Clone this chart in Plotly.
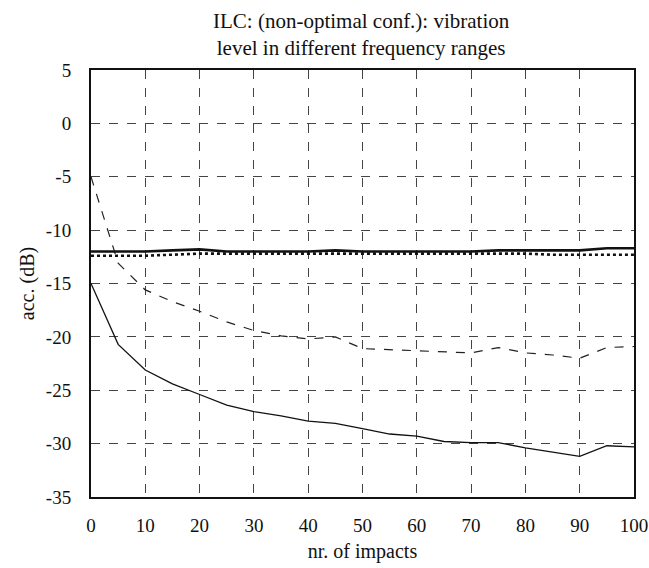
import plotly.graph_objects as go

impacts = [0, 5, 10, 15, 20, 25, 30, 35, 40, 45, 50, 55, 60, 65, 70, 75, 80, 85, 90, 95, 100]
thick_solid = [-12.0, -12.0, -12.0, -11.9, -11.8, -12.0, -12.0, -12.0, -12.0, -11.9, -12.0, -12.0, -12.0, -12.0, -12.0, -11.9, -11.9, -11.9, -11.9, -11.7, -11.7]
dotted = [-12.4, -12.4, -12.4, -12.3, -12.2, -12.2, -12.2, -12.2, -12.2, -12.2, -12.2, -12.2, -12.2, -12.2, -12.2, -12.2, -12.2, -12.3, -12.3, -12.3, -12.3]
dashed = [-5.0, -13.1, -15.6, -16.7, -17.6, -18.6, -19.4, -19.9, -20.2, -20.0, -21.1, -21.2, -21.3, -21.4, -21.5, -21.0, -21.5, -21.7, -22.0, -21.0, -20.9]
thin_solid = [-15.0, -20.7, -23.1, -24.4, -25.4, -26.4, -27.0, -27.4, -27.9, -28.1, -28.6, -29.1, -29.3, -29.8, -29.9, -29.9, -30.4, -30.8, -31.2, -30.2, -30.3]

x_ticks = [0, 10, 20, 30, 40, 50, 60, 70, 80, 90, 100]
y_ticks = [-35, -30, -25, -20, -15, -10, -5, 0, 5]
y_tick_labels = ["-35", "-30", "-25", "-20", "-15", "-10", "-5", "0", "5"]

title_text = "ILC: (non-optimal conf.): vibration<br>level in different frequency ranges"
x_title = "nr. of impacts"
y_title = "acc. (dB)"

FAM = "Liberation Serif, Times New Roman, serif"
font = dict(family=FAM, size=19, color="#111")
title_font = dict(family=FAM, size=21, color="#111")
axis_title_font = dict(family=FAM, size=20, color="#111")

fig = go.Figure()
fig.add_trace(go.Scatter(x=impacts, y=dashed, mode="lines", line=dict(color="#222", width=1.2, dash="dash")))
fig.add_trace(go.Scatter(x=impacts, y=thin_solid, mode="lines", line=dict(color="#111", width=1.3)))
fig.add_trace(go.Scatter(x=impacts, y=dotted, mode="lines", line=dict(color="#111", width=2.6, dash="dot")))
fig.add_trace(go.Scatter(x=impacts, y=thick_solid, mode="lines", line=dict(color="#111", width=2.6)))

fig.add_annotation(text=title_text, xref="paper", yref="paper", x=0.499, y=1.084,
                   xanchor="center", yanchor="middle", showarrow=False, font=title_font, align="center")

fig.update_layout(
    width=649, height=568,
    margin=dict(l=91, r=15, t=70, b=71),
    paper_bgcolor="white", plot_bgcolor="white",
    showlegend=False,
    font=font,
    xaxis=dict(range=[0, 100], tickvals=x_ticks, showgrid=True, gridcolor="#444", gridwidth=1, griddash="dash",
               showline=True, linecolor="#111", linewidth=2, mirror=True, automargin=False,
               ticks="outside", ticklen=10, tickcolor="rgba(0,0,0,0)", zeroline=False,
               title=dict(text=x_title, standoff=9, font=axis_title_font), tickfont=font),
    yaxis=dict(range=[-35, 5], tickvals=y_ticks, ticktext=y_tick_labels, showgrid=True, gridcolor="#444", gridwidth=1, griddash="dash",
               showline=True, linecolor="#111", linewidth=2, mirror=True, automargin=False,
               ticks="outside", ticklen=14, tickcolor="rgba(0,0,0,0)", zeroline=False,
               title=dict(text=y_title, standoff=6, font=axis_title_font), tickfont=font),
)
fig.write_html("out.html")
